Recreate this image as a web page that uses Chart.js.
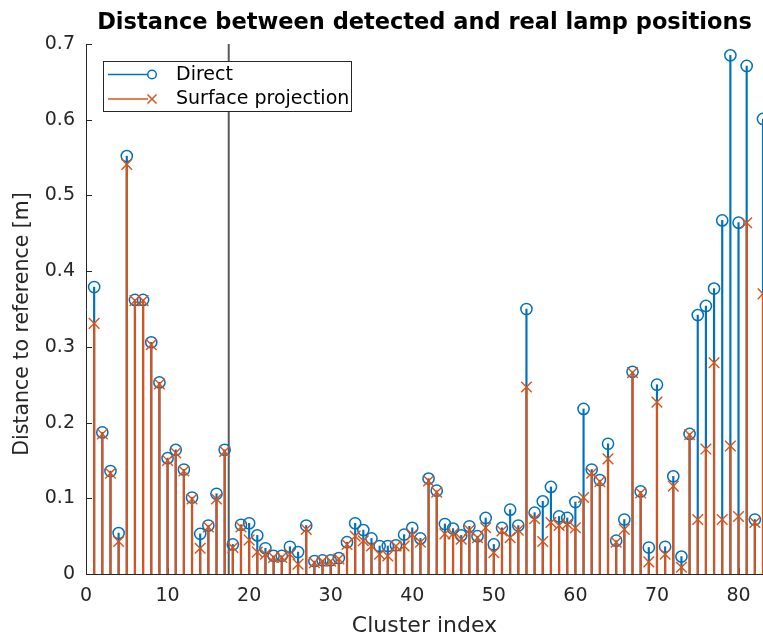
<!DOCTYPE html>
<html>
<head>
<meta charset="utf-8">
<script src="https://cdn.jsdelivr.net/npm/chart.js@4.4.1/dist/chart.umd.min.js"></script>
<style>
html,body{margin:0;padding:0;background:#ffffff;}
canvas{display:block;}
</style>
</head>
<body>
<canvas id="c" width="763" height="636"></canvas>
<script>
// ---------- data ----------
const clusterIndex = [1,2,3,4,5,6,7,8,9,10,11,12,13,14,15,16,17,18,19,20,
  21,22,23,24,25,26,27,28,29,30,31,32,33,34,35,36,37,38,39,40,
  41,42,43,44,45,46,47,48,49,50,51,52,53,54,55,56,57,58,59,60,
  61,62,63,64,65,66,67,68,69,70,71,72,73,74,75,76,77,78,79,80,
  81,82,83];

const directDist = [0.379,0.187,0.136,0.054,0.552,0.362,0.362,0.306,0.253,0.153,
  0.164,0.138,0.101,0.053,0.064,0.106,0.164,0.039,0.065,0.067,
  0.051,0.034,0.024,0.024,0.036,0.029,0.064,0.017,0.018,0.018,
  0.021,0.042,0.067,0.058,0.047,0.037,0.037,0.038,0.052,0.061,
  0.047,0.126,0.110,0.066,0.060,0.051,0.063,0.050,0.074,0.039,
  0.061,0.085,0.064,0.350,0.081,0.096,0.115,0.076,0.074,0.095,
  0.218,0.138,0.124,0.172,0.044,0.072,0.267,0.109,0.035,0.250,
  0.036,0.129,0.023,0.185,0.342,0.354,0.377,0.467,0.685,0.464,
  0.671,0.072,0.601];

const surfaceDist = [0.331,0.185,0.133,0.043,0.541,0.361,0.361,0.303,0.251,0.150,
  0.160,0.136,0.099,0.034,0.062,0.099,0.162,0.035,0.062,0.045,
  0.029,0.026,0.022,0.022,0.026,0.013,0.059,0.015,0.017,0.017,
  0.020,0.039,0.050,0.044,0.037,0.026,0.024,0.037,0.037,0.052,
  0.042,0.123,0.108,0.053,0.053,0.046,0.058,0.048,0.061,0.028,
  0.057,0.048,0.058,0.247,0.073,0.043,0.068,0.064,0.066,0.061,
  0.101,0.133,0.122,0.152,0.042,0.059,0.266,0.107,0.016,0.227,
  0.026,0.116,0.009,0.184,0.072,0.165,0.279,0.072,0.169,0.076,
  0.464,0.068,0.370];

const seriesNames = ['Direct', 'Surface projection'];
const xTickValues = [0,10,20,30,40,50,60,70,80];
const xTickLabels = ['0','10','20','30','40','50','60','70','80'];
const yTickValues = [0,0.1,0.2,0.3,0.4,0.5,0.6,0.7];
const yTickLabels = ['0','0.1','0.2','0.3','0.4','0.5','0.6','0.7'];
const separatorX = [17.5];
const xRange = [0, 83];
const yRange = [0, 0.7];
const yAxisTitle = 'Distance to reference [m]';

// ---------- style ----------
const BLUE = '#0072BD';
const ORANGE = '#D95319';
const AXIS = '#262626';
const FONT = "'DejaVu Sans', sans-serif";

const toPts = (arr) => arr.map((v, i) => ({x: clusterIndex[i], y: v}));

// inward ticks (MATLAB style)
const innerTicks = {
  id: 'innerTicks',
  beforeDatasetsDraw(chart) {
    const {ctx, chartArea, scales} = chart;
    ctx.save();
    ctx.strokeStyle = AXIS;
    ctx.lineWidth = 1;
    ctx.beginPath();
    scales.x.ticks.forEach(t => {
      const px = Math.round(scales.x.getPixelForValue(t.value)) + 0.5;
      ctx.moveTo(px, chartArea.bottom);
      ctx.lineTo(px, chartArea.bottom - 6);
    });
    scales.y.ticks.forEach(t => {
      const py = Math.round(scales.y.getPixelForValue(t.value)) + 0.5;
      ctx.moveTo(chartArea.left, py);
      ctx.lineTo(chartArea.left + 6, py);
    });
    ctx.stroke();
    ctx.restore();
  }
};

// y axis label (MATLAB places it slightly below the axis centre here)
const yLabel = {
  id: 'yLabel',
  afterDraw(chart) {
    const {ctx, chartArea} = chart;
    ctx.save();
    ctx.translate(23, (chartArea.top + chartArea.bottom) / 2 + 15);
    ctx.rotate(-Math.PI / 2);
    ctx.fillStyle = AXIS;
    ctx.font = "20.5px " + FONT;
    ctx.textAlign = 'center';
    ctx.textBaseline = 'middle';
    ctx.fillText(yAxisTitle, 0, 0);
    ctx.restore();
  }
};

// MATLAB-like legend box
const boxLegend = {
  id: 'boxLegend',
  afterDraw(chart) {
    const {ctx, chartArea} = chart;
    const bx = chartArea.left + 17, by = 61, bw = 248, bh = 50;
    ctx.save();
    ctx.fillStyle = '#ffffff';
    ctx.fillRect(bx, by, bw, bh);
    ctx.strokeStyle = AXIS;
    ctx.lineWidth = 1;
    ctx.strokeRect(Math.round(bx) + 0.5, by + 0.5, bw, bh);
    const rows = [
      {label: chart.data.datasets[1].label, color: BLUE, marker: 'circle', y: by + 13.5},
      {label: chart.data.datasets[3].label, color: ORANGE, marker: 'cross', y: by + 38}
    ];
    rows.forEach(r => {
      ctx.strokeStyle = r.color;
      ctx.lineWidth = 1.3;
      ctx.beginPath();
      ctx.moveTo(bx + 5, r.y);
      ctx.lineTo(bx + 45, r.y);
      ctx.stroke();
      const mx = bx + 49;
      ctx.lineWidth = 1.5;
      ctx.beginPath();
      if (r.marker === 'circle') {
        ctx.arc(mx, r.y, 4.3, 0, Math.PI * 2);
      } else {
        ctx.moveTo(mx - 4.5, r.y - 4.5); ctx.lineTo(mx + 4.5, r.y + 4.5);
        ctx.moveTo(mx - 4.5, r.y + 4.5); ctx.lineTo(mx + 4.5, r.y - 4.5);
      }
      ctx.stroke();
      ctx.fillStyle = '#000000';
      ctx.font = "19px " + FONT;
      ctx.textBaseline = 'middle';
      ctx.textAlign = 'left';
      ctx.fillText(r.label, bx + 73, r.y + 0.5);
    });
    ctx.restore();
  }
};

new Chart(document.getElementById('c'), {
  type: 'bar',
  data: {
    datasets: [
      {
        type: 'line', label: 'separator',
        data: [{x: separatorX[0], y: yRange[0]}, {x: separatorX[0], y: yRange[1]}],
        borderColor: '#5a5a5a', borderWidth: 2, pointRadius: 0, order: 10
      },
      {
        type: 'bar', label: seriesNames[0], data: toPts(directDist),
        backgroundColor: BLUE, borderWidth: 0, barThickness: 1.5, grouped: false, order: 6
      },
      {
        type: 'line', label: seriesNames[0] + ' markers', data: toPts(directDist), showLine: false,
        pointStyle: 'circle', pointRadius: 5.6, pointBorderWidth: 1.5,
        pointBorderColor: BLUE, pointBackgroundColor: 'rgba(0,0,0,0)', order: 5
      },
      {
        type: 'bar', label: seriesNames[1], data: toPts(surfaceDist),
        backgroundColor: ORANGE, borderWidth: 0, barThickness: 1.5, grouped: false, order: 4
      },
      {
        type: 'line', label: seriesNames[1] + ' markers', data: toPts(surfaceDist), showLine: false,
        pointStyle: 'crossRot', pointRadius: 7.5, pointBorderWidth: 1.4,
        pointBorderColor: ORANGE, pointBackgroundColor: ORANGE, order: 3
      }
    ]
  },
  options: {
    responsive: false,
    animation: false,
    devicePixelRatio: 1,
    layout: {padding: 0, autoPadding: false},
    plugins: {
      legend: {display: false},
      tooltip: {enabled: false},
      title: {
        display: true,
        text: 'Distance between detected and real lamp positions',
        fullSize: false,
        color: '#000000',
        font: {family: FONT, size: 22.5, weight: 'bold'},
        padding: {top: 10, bottom: 7}
      }
    },
    scales: {
      x: {
        type: 'linear', min: xRange[0], max: xRange[1], offset: false,
        grid: {display: false, drawTicks: false},
        border: {display: true, color: AXIS, width: 1},
        afterBuildTicks: s => { s.ticks = xTickValues.map(v => ({value: v})); },
        afterFit: s => { s.height = 62; s.paddingLeft = 0; s.paddingRight = 0; },
        ticks: {
          color: AXIS, font: {family: FONT, size: 19}, padding: 11,
          maxRotation: 0, autoSkip: false, includeBounds: false,
          callback: (v, i) => xTickLabels[i]
        },
        title: {
          display: true, text: 'Cluster index', color: AXIS,
          font: {family: FONT, size: 22}, padding: {top: 0, bottom: -3}
        }
      },
      y: {
        type: 'linear', min: yRange[0], max: yRange[1],
        grid: {display: false, drawTicks: false},
        border: {display: true, color: AXIS, width: 1},
        afterBuildTicks: s => { s.ticks = yTickValues.map(v => ({value: v})); },
        afterFit: s => { s.width = 86; s.paddingTop = 0; s.paddingBottom = 0; },
        ticks: {
          color: AXIS, font: {family: FONT, size: 19}, padding: 11,
          callback: (v, i) => yTickLabels[i]
        },
        title: {display: false}
      }
    }
  },
  plugins: [innerTicks, boxLegend, yLabel]
});
</script>
</body>
</html>
